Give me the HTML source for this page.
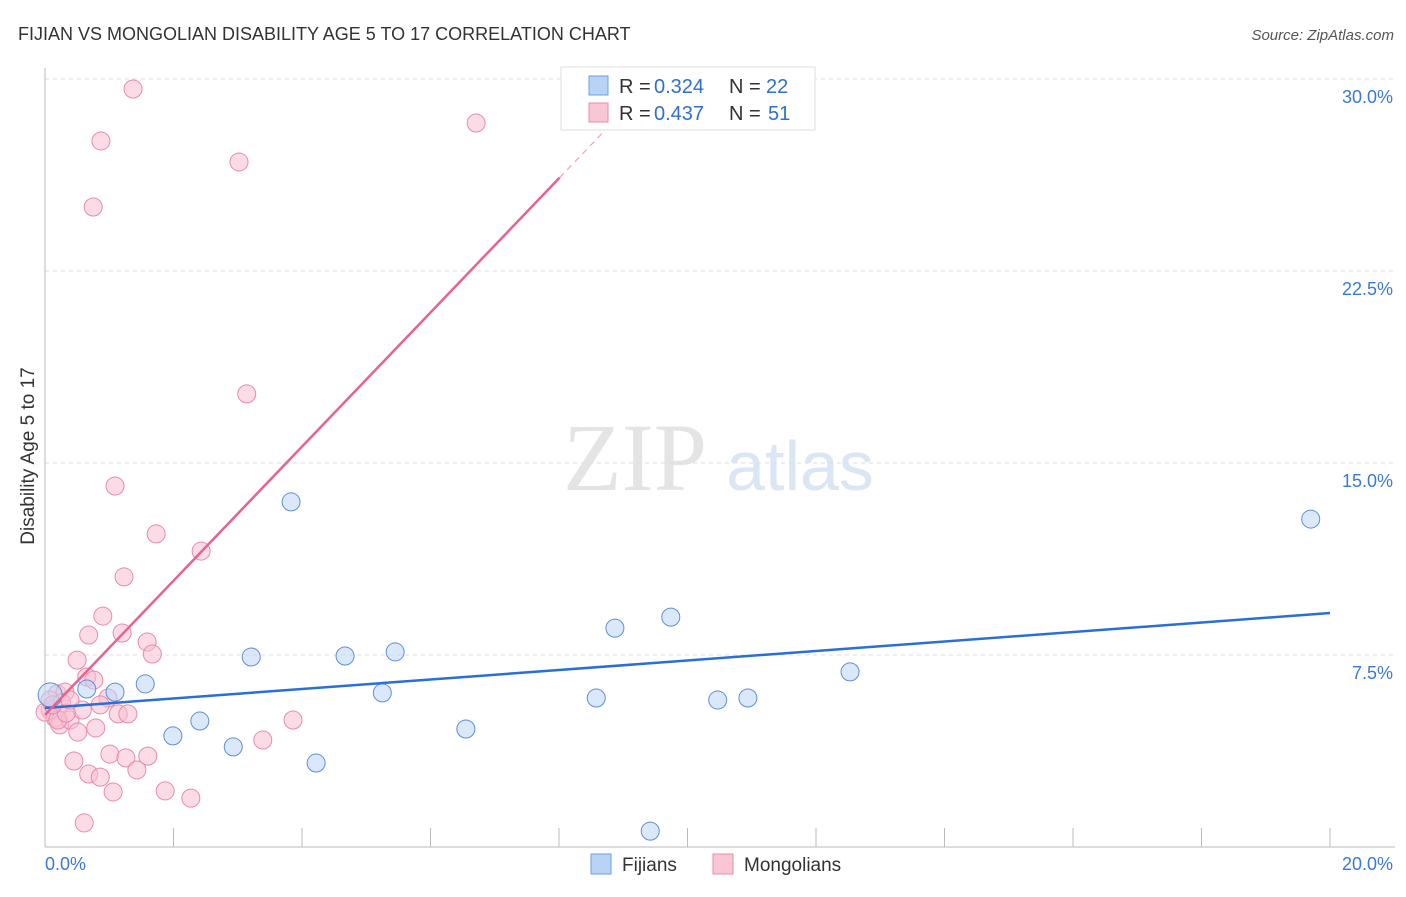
<!DOCTYPE html>
<html><head><meta charset="utf-8"><style>
body{margin:0;background:#fff;font-family:"Liberation Sans",sans-serif}
</style></head><body>
<svg width="1406" height="892" xmlns="http://www.w3.org/2000/svg" font-family="Liberation Sans, sans-serif">
<text x="18" y="40" font-size="18" fill="#333">FIJIAN VS MONGOLIAN DISABILITY AGE 5 TO 17 CORRELATION CHART</text>
<text x="1394" y="40" font-size="15" fill="#555" text-anchor="end" font-style="italic">Source: ZipAtlas.com</text>
<text x="34" y="456" font-size="19" fill="#333" text-anchor="middle" transform="rotate(-90 34 456)">Disability Age 5 to 17</text>
<g><text x="635" y="490" font-size="96" fill="#e4e4e4" text-anchor="middle" font-family="Liberation Serif, serif">ZIP</text><text x="800" y="490" font-size="70" fill="#dbe6f5" text-anchor="middle">atlas</text></g>
<g id="grid"></g><g id="axes"></g><g id="marks"></g>
<g>
<rect x="561" y="67" width="254" height="63" fill="#fff" stroke="#ddd"/>
<rect x="589" y="76" width="19" height="19" fill="#b8d3f5" stroke="#6e9ee0"/>
<text x="619" y="93" font-size="20" fill="#333">R = </text><text x="654" y="93" font-size="20" fill="#2f6fd0">0.324</text>
<text x="729" y="93" font-size="20" fill="#333">N = </text><text x="766" y="93" font-size="20" fill="#2f6fd0">22</text>
<rect x="589" y="103" width="19" height="19" fill="#f9c6d6" stroke="#ea8aa8"/>
<text x="619" y="120" font-size="20" fill="#333">R = </text><text x="654" y="120" font-size="20" fill="#2f6fd0">0.437</text>
<text x="729" y="120" font-size="20" fill="#333">N = </text><text x="768" y="120" font-size="20" fill="#2f6fd0">51</text>
</g>
<g>
<rect x="591" y="854" width="20" height="20" fill="#b8d3f5" stroke="#6e9ee0"/>
<text x="622" y="871" font-size="19" fill="#333">Fijians</text>
<rect x="713" y="854" width="20" height="20" fill="#f9c6d6" stroke="#ea8aa8"/>
<text x="744" y="871" font-size="19" fill="#333">Mongolians</text>
</g>
</svg>
<script>
const yTicks=[7.5,15,22.5,30];
const yTickLabels=["7.5%","15.0%","22.5%","30.0%"];
const xTickVals=[0,2,4,6,8,10,12,14,16,18,20];
const fijX=[0.65,1.09,1.56,1.99,2.41,2.93,3.21,3.83,4.22,4.67,5.25,5.45,6.55,8.58,8.87,9.42,9.74,10.47,10.94,12.53,19.70,0.08];
const fijY=[6.17,6.05,6.37,4.34,4.92,3.91,7.42,13.48,3.28,7.46,6.02,7.62,4.61,5.82,8.55,0.62,8.98,5.74,5.82,6.84,12.81,5.94];
const monX=[1.37,0.87,3.02,6.71,0.75,3.14,1.09,1.73,2.43,1.23,0.90,0.68,1.20,1.59,1.67,0.50,0.65,0.76,0.98,0.19,0.31,0.08,0.16,0.23,0.39,0.58,0.51,0.79,1.14,1.29,0.45,1.01,1.60,1.26,0.68,0.86,1.43,1.06,1.87,2.27,0.61,3.39,3.86,0.08,0.26,0,0.20,0.33,0.12,0.39,0.86];
const monY=[29.61,27.58,26.76,28.28,25.0,17.70,14.10,12.23,11.56,10.55,9.02,8.28,8.36,8.01,7.54,7.30,6.64,6.52,5.82,5.98,6.05,5.35,5.04,4.77,4.96,5.35,4.49,4.65,5.20,5.20,3.36,3.63,3.55,3.48,2.85,2.73,3.01,2.15,2.19,1.91,0.94,4.18,4.96,5.74,5.63,5.27,4.96,5.23,5.55,5.74,5.55];
const fijTrend=[5.43,0.1855]; // intercept, slope
const monTrend=[5.16,2.62];
const NS="http://www.w3.org/2000/svg";
const X=v=>45+v/20*1285, Y=v=>847-v/7.5*192;
function mk(t,a,p){const e=document.createElementNS(NS,t);for(const k in a)e.setAttribute(k,a[k]);document.getElementById(p).appendChild(e);return e;}
yTicks.forEach((t,i)=>{
 const g=mk('line',{x1:45,x2:1395,y1:Y(t),y2:Y(t),stroke:'#ddd','stroke-dasharray':'4,4'},'grid');
 
 
 const l=mk('text',{x:1393,y:Y(t)+24,'font-size':18,fill:'#3b78d8','text-anchor':'end'},'axes');
 l.textContent=yTickLabels[i];
 
 
});
const ax=mk('line',{x1:45,x2:45,y1:68,y2:847,stroke:'#bbb'},'axes');


const bx=mk('line',{x1:45,x2:1395,y1:847,y2:847,stroke:'#bbb'},'axes');


xTickVals.forEach(v=>{if(v===0)return;const t=mk('line',{x1:X(v),x2:X(v),y1:828,y2:847,stroke:'#bbb'},'axes');
 
 });
[[0,"0.0%",'start',45],[20,"20.0%",'end',1393]].forEach(d=>{const t=mk('text',{x:d[3],y:870,'font-size':18,fill:'#3b78d8','text-anchor':d[2]},'axes');t.textContent=d[1];
 
 });
function dot(x,y,r,f,s,n){const c=mk('circle',{cx:X(x),cy:Y(y),r:r,fill:f,stroke:s,'stroke-width':1,'fill-opacity':0.55},'marks');
 
 }
monX.forEach((x,i)=>dot(x,monY[i],9,'#f7bfd1','#e98aa9','mongolian-point'));
fijX.forEach((x,i)=>dot(x,fijY[i],i===fijX.length-1?12:9,'#bcd5f5','#5d8fd8','fijian-point'));
const fl=mk('line',{x1:X(0),y1:Y(fijTrend[0]),x2:X(20),y2:Y(fijTrend[0]+20*fijTrend[1]),stroke:'#2a6fd6','stroke-width':2.5},'marks');


const mEnd=8.01;
const ml=mk('line',{x1:X(0),y1:Y(monTrend[0]),x2:X(mEnd),y2:Y(monTrend[0]+mEnd*monTrend[1]),stroke:'#e8628f','stroke-width':2.5},'marks');


const md=mk('line',{x1:X(mEnd),y1:Y(monTrend[0]+mEnd*monTrend[1]),x2:X(8.8),y2:Y(monTrend[0]+8.8*monTrend[1]),stroke:'#f0a0ba','stroke-width':1.2,'stroke-dasharray':'6,5'},'marks');


</script>
</body></html>
